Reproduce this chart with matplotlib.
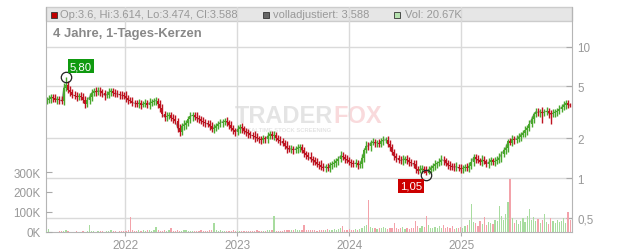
import numpy as np
import pandas as pd
import matplotlib
matplotlib.use("Agg")
import matplotlib.pyplot as plt
import matplotlib.dates as mdates
from matplotlib.ticker import FixedLocator, NullLocator
from matplotlib.patches import Rectangle

# weekly closes (Apr 2021 - Dec 2025)
closes = [
    3.90, 4.00, 4.12, 4.05, 3.95, 4.00, 3.92, 3.85, 4.85, 5.10,
    4.70, 4.50, 4.30, 4.22, 4.15, 4.20, 4.15, 3.95, 3.68, 3.90,
    4.15, 4.45, 4.58, 4.50, 4.62, 4.55, 4.40, 4.25, 4.30, 4.50,
    4.60, 4.45, 4.38, 4.35, 4.30, 4.25, 4.22, 4.05, 3.92, 3.88,
    3.75, 3.70, 3.65, 3.72, 3.62, 3.66, 3.70, 3.60, 3.75, 3.78,
    3.85, 3.88, 3.68, 3.40, 3.05, 2.90, 2.95, 3.00, 2.88, 2.82,
    2.70, 2.40, 2.25, 2.48, 2.55, 2.62, 2.80, 2.95, 3.00, 2.92,
    2.85, 2.80, 2.72, 2.66, 2.62, 2.57, 2.48, 2.36, 2.42, 2.50,
    2.58, 2.64, 2.68, 2.70, 2.65, 2.52, 2.40, 2.30, 2.24, 2.35,
    2.44, 2.38, 2.28, 2.22, 2.18, 2.12, 2.10, 2.05, 2.00, 1.98,
    1.96, 2.00, 1.98, 2.08, 2.16, 2.10, 2.12, 2.02, 1.95, 1.90,
    1.85, 1.76, 1.68, 1.65, 1.67, 1.64, 1.66, 1.70, 1.72, 1.62,
    1.54, 1.50, 1.45, 1.40, 1.36, 1.32, 1.28, 1.26, 1.22, 1.20,
    1.22, 1.19, 1.25, 1.28, 1.30, 1.35, 1.40, 1.48, 1.45, 1.40,
    1.36, 1.33, 1.30, 1.28, 1.30, 1.26, 1.27, 1.42, 1.62, 1.76,
    1.74, 1.86, 1.88, 1.84, 1.86, 1.82, 1.90, 1.93, 1.96, 1.82,
    1.72, 1.58, 1.46, 1.42, 1.38, 1.36, 1.38, 1.40, 1.36, 1.32,
    1.30, 1.27, 1.18, 1.14, 1.16, 1.18, 1.15, 1.10, 1.16, 1.20,
    1.23, 1.27, 1.29, 1.33, 1.38, 1.36, 1.30, 1.25, 1.24, 1.22,
    1.21, 1.22, 1.19, 1.17, 1.19, 1.21, 1.20, 1.24, 1.32, 1.44,
    1.40, 1.36, 1.33, 1.38, 1.34, 1.28, 1.32, 1.36, 1.33, 1.34,
    1.38, 1.43, 1.52, 1.62, 1.70, 1.90, 1.86, 1.97, 1.96, 1.99,
    2.06, 2.14, 2.20, 2.30, 2.40, 2.58, 2.80, 3.05, 3.20, 3.15,
    3.20, 3.12, 3.18, 3.22, 3.10, 3.05, 3.12, 3.18, 3.22, 3.35,
    3.45, 3.62, 3.70, 3.60, 3.59,
]

# upper / lower wick length in percent of the body edge
up_pct = [
    6, 7, 5, 6, 8, 5, 6, 7, 9, 14, 7, 6, 5, 7, 6, 5, 8, 6, 7, 5,
    7, 6, 5, 8, 6, 7, 5, 6, 7, 8, 6, 5, 7, 6, 5, 7, 6, 8, 5, 6,
    7, 5, 6, 8, 6, 5, 7, 6, 8, 5, 6, 7, 5, 6, 8, 6, 7, 5, 6, 7,
    6, 5, 7, 6, 8, 5, 6, 7, 5, 6, 8, 6, 5, 7, 6, 5, 7, 8, 6, 5,
    6, 7, 5, 6, 8, 5, 7, 6, 5, 7, 6, 8, 5, 6, 7, 5, 6, 8, 7, 5,
    6, 7, 5, 8, 6, 5, 7, 6, 5, 7, 6, 5, 8, 6, 7, 5, 6, 7, 5, 6,
    7, 5, 6, 8, 5, 6, 7, 5, 8, 6, 5, 7, 6, 5, 7, 6, 5, 8, 6, 5,
    6, 7, 5, 6, 8, 5, 6, 7, 5, 8, 6, 5, 7, 6, 5, 7, 6, 8, 5, 6,
    7, 5, 6, 7, 5, 6, 8, 5, 7, 6, 5, 6, 7, 5, 8, 6, 5, 7, 6, 5,
    6, 7, 5, 6, 8, 7, 5, 6, 7, 5, 6, 8, 5, 7, 6, 5, 7, 6, 8, 5,
    6, 7, 5, 8, 6, 5, 7, 6, 5, 7, 6, 8, 5, 6, 7, 5, 6, 7, 5, 6,
    7, 5, 6, 8, 5, 7, 6, 5, 7, 6, 5, 8, 6, 7, 5, 6, 7, 5, 6, 7,
    6, 7, 5, 6, 4,
]
dn_pct = [
    6, 5, 7, 6, 5, 7, 6, 5, 6, 6, 5, 7, 6, 5, 7, 6, 5, 6, 8, 5,
    6, 7, 5, 6, 5, 7, 6, 8, 5, 6, 7, 5, 6, 5, 7, 6, 5, 7, 6, 5,
    6, 7, 5, 6, 7, 5, 6, 5, 7, 6, 5, 6, 8, 7, 5, 6, 7, 5, 6, 7,
    5, 6, 7, 5, 6, 7, 5, 6, 8, 5, 6, 7, 5, 6, 7, 5, 6, 5, 7, 6,
    5, 6, 7, 5, 6, 7, 5, 6, 7, 5, 6, 7, 5, 6, 7, 5, 6, 8, 5, 6,
    7, 5, 6, 7, 5, 6, 7, 5, 6, 7, 5, 6, 7, 5, 6, 7, 5, 6, 7, 5,
    6, 7, 5, 6, 7, 5, 6, 7, 5, 6, 7, 5, 6, 7, 5, 6, 7, 5, 6, 7,
    5, 6, 7, 5, 6, 7, 5, 6, 7, 5, 6, 7, 5, 6, 7, 5, 6, 7, 5, 6,
    7, 5, 6, 7, 5, 6, 7, 5, 6, 7, 5, 6, 7, 6, 5, 6, 5, 5, 3, 6,
    5, 6, 7, 5, 6, 7, 5, 6, 7, 5, 6, 7, 5, 6, 7, 5, 6, 7, 5, 6,
    7, 5, 6, 7, 5, 6, 7, 5, 6, 7, 5, 6, 7, 5, 6, 7, 5, 6, 7, 5,
    6, 7, 5, 6, 7, 5, 6, 7, 5, 6, 7, 16, 5, 6, 7, 16, 5, 6, 7, 5,
    6, 5, 7, 5, 4,
]

# volume in thousands
vol_k = [
    3, 15, 2, 0, 1, 2, 4, 3, 6, 8, 5, 2, 1, 0, 3, 2, 1, 4, 2, 3,
    35, 6, 3, 2, 4, 5, 3, 2, 6, 4, 10, 5, 3, 2, 4, 6, 3, 5, 12, 75,
    8, 6, 5, 10, 7, 9, 6, 12, 8, 6, 10, 25, 9, 7, 6, 8, 5, 10, 18, 7,
    5, 9, 4, 6, 12, 8, 5, 3, 4, 6, 3, 5, 8, 6, 4, 3, 12, 9, 47, 10,
    6, 8, 5, 4, 6, 3, 5, 8, 4, 6, 3, 5, 4, 7, 5, 3, 6, 4, 8, 5,
    4, 6, 5, 9, 12, 8, 80, 6, 5, 7, 6, 9, 8, 10, 12, 9, 14, 10, 12, 8,
    35, 10, 8, 12, 9, 11, 7, 10, 8, 12, 9, 14, 10, 12, 16, 11, 13, 18, 30, 12,
    10, 14, 9, 12, 15, 10, 13, 22, 28, 35, 160, 25, 18, 20, 15, 22, 18, 25, 20, 16,
    18, 22, 45, 20, 15, 18, 25, 14, 20, 16, 22, 18, 55, 30, 20, 28, 24, 80, 35, 22,
    18, 25, 20, 30, 22, 35, 18, 24, 20, 28, 16, 22, 18, 25, 20, 30, 35, 60, 140, 50,
    45, 30, 55, 40, 75, 35, 50, 45, 40, 60, 55, 130, 80, 60, 90, 150, 265, 70, 45, 60,
    40, 55, 70, 50, 80, 115, 60, 75, 55, 65, 45, 60, 90, 50, 40, 70, 55, 45, 60, 50,
    55, 70, 45, 100, 60,
]

price_ticks = [0.5, 1, 2, 5, 10]
price_labels = ["0,5", "1", "2", "5", "10"]
vol_ticks = [0, 100, 200, 300]
vol_labels = ["0K", "100K", "200K", "300K"]

plt.rcParams["font.family"] = ["Liberation Sans", "DejaVu Sans"]
RED, GREEN = "#be1320", "#48a72c"
VRED, VGREEN = "#f3a2aa", "#a8dc9f"
TXT = "#999999"

dates = pd.date_range("2021-04-19", periods=len(closes), freq="7D")
x = mdates.date2num(dates)
close = np.array(closes)
opn = np.r_[close[0], close[:-1]]
hi = np.maximum(opn, close) * (1 + np.array(up_pct) / 100)
lo = np.minimum(opn, close) * (1 - np.array(dn_pct) / 100)
up = close >= opn

W, H = 632, 253
fig = plt.figure(figsize=(W / 100, H / 100), dpi=100)
ax = fig.add_axes([46 / W, 20 / H, 526 / W, 225 / H])
ax.set_yscale("log")
ax.set_ylim(0.3885, 19.97)
ax.set_xlim(mdates.date2num(pd.Timestamp("2021-04-17")),
            mdates.date2num(pd.Timestamp("2025-12-28")))
ax.set_axisbelow(True)

# header band
ax.add_patch(Rectangle((0, 211 / 225), 1, 14 / 225, transform=ax.transAxes,
                       facecolor="#e6e6e6", edgecolor="#cccccc", lw=1,
                       zorder=0.2, clip_on=False))

# watermark
wy = (233 - 116.5) / 225
ax.text((235 - 46) / 526, wy, "TRADER", transform=ax.transAxes,
        fontsize=17, fontweight="bold", color="#e4e4e4", va="center",
        ha="left", zorder=0.3)
ax.text((333.5 - 46) / 526, wy, "FOX", transform=ax.transAxes,
        fontsize=17, fontweight="bold", color="#f9dadc", va="center",
        ha="left", zorder=0.3)
ax.text((287 - 46) / 526, (233 - 130) / 225, "REALTIME STOCK SCREENING",
        transform=ax.transAxes, fontsize=4.2, fontweight="bold",
        color="#e4e4e4", va="center", ha="center", zorder=0.3)

# gray adjusted close line + candles
ax.plot(x, close, color="#9a9a9a", lw=0.8, zorder=1.5)
cols = np.where(up, GREEN, RED)
ax.vlines(x, lo, hi, colors=cols, lw=1.0, zorder=2)
ax.bar(x, np.abs(close - opn) + 1e-3, bottom=np.minimum(opn, close),
       width=6.5, color=cols, lw=0, zorder=2.1)

# extreme markers
i_hi = int(np.argmax(hi))
i_lo = int(np.argmin(lo))
ax.plot(x[i_hi], hi[i_hi], "o", mfc="none", mec="#222222", ms=7.5, mew=0.9, zorder=4)
ax.plot(x[i_lo], lo[i_lo], "o", mfc="none", mec="#222222", ms=7.5, mew=0.9, zorder=4)
ax.annotate("5,80", (x[i_hi], hi[i_hi]), xytext=(10.8, 8.2), textcoords="offset points",
            ha="center", va="center", color="white", fontsize=8.2, zorder=5,
            bbox=dict(boxstyle="square,pad=0.18", fc="#0f9a0f", ec="none"))
ax.annotate("1,05", (x[i_lo], lo[i_lo]), xytext=(-11.3, -7.5), textcoords="offset points",
            ha="center", va="center", color="white", fontsize=8.2, zorder=5,
            bbox=dict(boxstyle="square,pad=0.18", fc="#cc0000", ec="none"))

ax.xaxis.set_major_locator(mdates.YearLocator())
ax.xaxis.set_major_formatter(mdates.DateFormatter("%Y"))
ax.grid(True, color="#dadada", lw=1)
ax.tick_params(axis="x", direction="out", length=3, width=0.8, color="#aaaaaa",
               labelsize=8.5, labelcolor=TXT, pad=2)
for s in ["left", "right", "bottom"]:
    ax.spines[s].set_color("#b5b5b5")
ax.spines["top"].set_visible(False)

# volume on the left
axv = ax.twinx()
axv.yaxis.tick_left()
axv.set_ylim(0, 1125)
vcols = np.where(up, VGREEN, VRED)
axv.bar(x, vol_k, width=4, color=vcols, lw=0, zorder=1)
axv.yaxis.set_major_locator(FixedLocator(vol_ticks))
axv.set_yticklabels(vol_labels)
axv.tick_params(axis="y", direction="in", length=4, width=0.8, color="#aaaaaa",
                labelsize=8.4, labelcolor=TXT, pad=4)
for s in axv.spines.values():
    s.set_visible(False)

# price axis on the right (after twinx, which moves it left)
ax.yaxis.tick_right()
ax.yaxis.set_major_locator(FixedLocator(price_ticks))
ax.yaxis.set_minor_locator(NullLocator())
ax.set_yticklabels(price_labels)
ax.tick_params(axis="y", which="both", left=False, labelleft=False,
               right=True, labelright=True, direction="in", length=4,
               width=0.8, color="#aaaaaa", labelsize=8.4, labelcolor=TXT, pad=4)

# header texts
def ftxt(px, py, s, **kw):
    fig.text(px / W, 1 - py / H, s, va="center", ha="left", **kw)

def fsq(px, py, c):
    fig.add_artist(Rectangle((px / W, 1 - (py + 6) / H), 6 / W, 6 / H,
                             transform=fig.transFigure, fc=c, ec="#333333", lw=0.6))

fsq(51, 12.5, "#c00000")
ftxt(60, 15.5, "Op:3.6, Hi:3.614, Lo:3.474, Cl:3.588", fontsize=8.0, color=TXT)
fsq(263, 12.5, "#666666")
ftxt(273, 15.5, "volladjustiert: 3.588", fontsize=8.0, color=TXT)
fsq(394, 12.5, "#b5e0ae")
ftxt(405, 15.5, "Vol: 20.67K", fontsize=8.0, color=TXT)
ftxt(53, 33.5, "4 Jahre, 1-Tages-Kerzen", fontsize=9.4, fontweight="bold", color="#888888")

fig.savefig("out.png", dpi=100)
